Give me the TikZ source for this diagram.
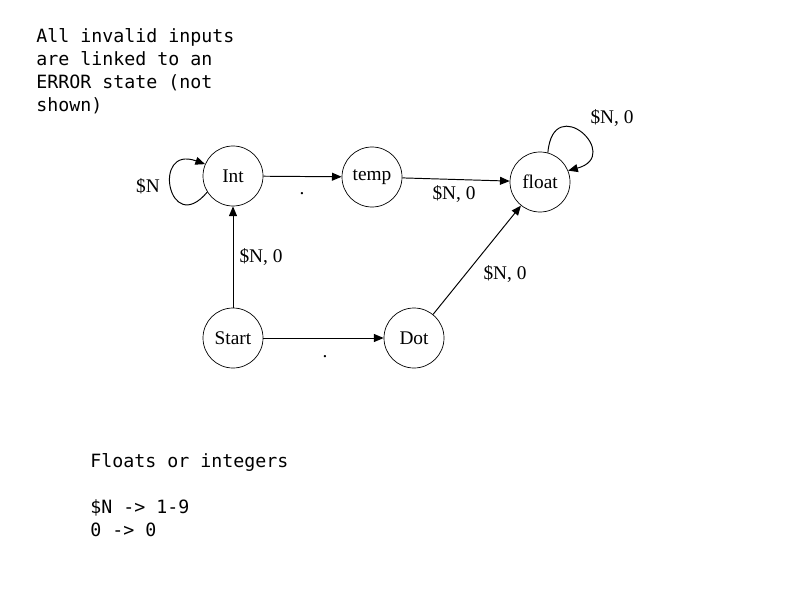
\documentclass[tikz,border=0pt]{standalone}
\usepackage{fontspec}
\setmainfont{Liberation Serif}
\newfontfamily\notefont{DejaVu Sans Mono}
\usetikzlibrary{arrows.meta}
\tikzset{
    state/.style={draw,circle,minimum size=1.2cm,inner sep=0pt,font=\fontsize{11}{13}\selectfont},
    lbl/.style={font=\fontsize{11}{13}\selectfont},
    note/.style={align=left,inner sep=0pt,anchor=north west,font=\notefont\fontsize{10.4}{13.1}\selectfont},
    trans/.style={-{Triangle[length=5.5pt,width=4.5pt]},line width=0.55pt}
}
\begin{document}
\begin{tikzpicture}
    \useasboundingbox (0,0) rectangle (16,12);
    \node[note] (info) at (0.72,11.44) {All invalid inputs\\are linked to an\\ERROR state (not\\shown)};
    \node[state] (Int) at (4.66,8.48) {Int};
    \node[state] (temp) at (7.44,8.46) {temp};
    \node[state] (float) at (10.8,8.36) {float};
    \node[state] (Start) at (4.66,5.24) {Start};
    \node[state] (Dot) at (8.28,5.24) {Dot};
    \draw[trans] (Int.212) .. controls +(230:1.2) and +(160:1.15) .. (Int.157);
    \draw[trans] (float.75) .. controls +(85:1.25) and +(15:1.15) .. (float.22);
    \draw[trans] (Int)--(temp);
    \draw[trans] (temp)--(float);
    \draw[trans] (Start)--(Int);
    \draw[trans] (Start)--(Dot);
    \draw[trans] (Dot)--(float);
    \node[lbl] (lIntloop) at (2.96,8.28) {\$N};
    \node[lbl] (lfloatloop) at (12.24,9.64) {\$N, 0};
    \node[lbl] (lIntTemp) at (6.04,8.12) {.};
    \node[lbl] (lTempFloat) at (9.08,8.12) {\$N, 0};
    \node[lbl] (lStartInt) at (5.22,6.86) {\$N, 0};
    \node[lbl] (lStartDot) at (6.5,4.86) {.};
    \node[lbl] (lDotFloat) at (10.1,6.52) {\$N, 0};
    \node[note] (legend) at (1.8,2.94) {Floats or integers\\\strut\\\$N -> 1-9\\0 -> 0};
\end{tikzpicture}
\end{document}
